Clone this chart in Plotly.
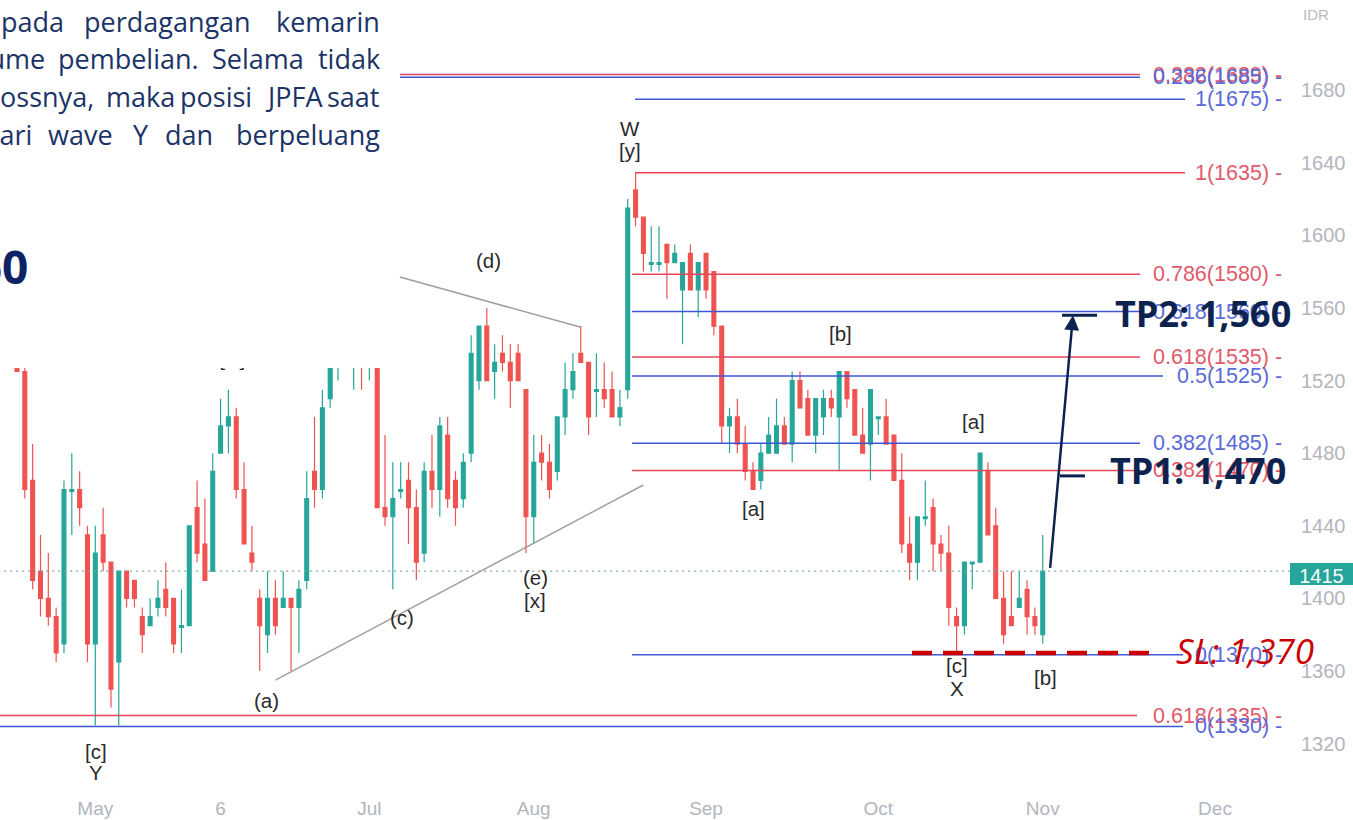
import plotly.graph_objects as go

# ---------------- data ----------------
bar_index = list(range(132))
open_ = [1540,1525,1465,1415,1400,1390,1375,1459,1460,1435,1375,1435,1420,1365,1415,1410,1390,1385,1395,1405,
         1400,1384,1385,1450,1430,1415,1480,1495,1500,1460,1425,1400,1380,1400,1395,1400,1395,1410,1470,1460,
         1510,1540,1555,1540,1560,1535,1545,1450,1445,1459,1465,1450,1425,1470,1460,1490,1465,1455,1480,1520,
         1550,1525,1535,1530,1535,1515,1445,1480,1475,1470,1500,1515,1535,1530,1514,1515,1515,1500,1515,1625,
         1610,1584,1584,1595,1585,1570,1590,1570,1590,1580,1550,1495,1500,1485,1470,1465,1480,1480,1495,1485,
         1520,1510,1490,1500,1510,1500,1525,1515,1490,1485,1499,1500,1490,1465,1430,1420,1444,1450,1430,1425,
         1390,1385,1419,1420,1470,1440,1400,1390,1395,1405,1390,1380]
high = [1550,1530,1485,1435,1425,1395,1465,1480,1470,1440,1440,1450,1420,1415,1415,1410,1395,1400,1410,1420,
        1400,1405,1440,1465,1455,1480,1510,1515,1505,1475,1440,1405,1415,1410,1415,1400,1410,1470,1500,1515,
        1545,1560,1565,1570,1570,1550,1550,1490,1475,1475,1475,1460,1475,1490,1500,1500,1470,1480,1545,1550,
        1560,1540,1545,1540,1540,1515,1490,1490,1485,1500,1530,1535,1550,1530,1535,1530,1525,1515,1620,1635,
        1610,1605,1605,1595,1595,1585,1595,1585,1590,1580,1550,1505,1510,1495,1475,1485,1500,1510,1500,1525,
        1525,1515,1510,1515,1515,1525,1525,1515,1505,1515,1500,1510,1490,1480,1445,1445,1465,1455,1435,1440,
        1395,1420,1420,1480,1475,1450,1415,1415,1415,1410,1395,1435]
low = [1525,1455,1405,1390,1385,1365,1370,1435,1440,1365,1330,1415,1340,1330,1395,1395,1370,1385,1390,1390,
       1370,1370,1385,1420,1410,1415,1480,1480,1455,1430,1415,1360,1370,1380,1395,1360,1370,1405,1450,1455,
       1505,1520,1530,1515,1515,1520,1450,1440,1405,1455,1430,1410,1420,1450,1445,1450,1440,1450,1475,1515,
       1520,1510,1525,1505,1520,1425,1430,1465,1455,1465,1490,1510,1530,1490,1500,1505,1500,1495,1510,1605,
       1580,1580,1580,1565,1585,1540,1570,1555,1565,1545,1485,1480,1480,1465,1460,1460,1480,1480,1485,1475,
       1505,1490,1480,1490,1500,1470,1505,1490,1480,1465,1490,1485,1465,1425,1410,1410,1440,1415,1415,1385,
       1370,1380,1405,1420,1435,1400,1375,1385,1395,1380,1380,1375]
close = [1525,1460,1410,1400,1390,1370,1460,1460,1450,1375,1425,1420,1350,1415,1400,1400,1380,1390,1400,1395,
         1375,1385,1440,1425,1410,1470,1495,1500,1460,1430,1420,1385,1400,1385,1400,1395,1405,1455,1460,1505,
         1540,1555,1540,1560,1535,1545,1450,1445,1455,1460,1450,1420,1470,1460,1495,1455,1450,1475,1535,1550,
         1520,1530,1530,1520,1520,1445,1475,1475,1460,1500,1515,1525,1530,1500,1515,1510,1500,1505,1615,1610,
         1590,1585,1585,1585,1590,1585,1570,1585,1570,1550,1495,1500,1485,1470,1460,1480,1490,1495,1485,1520,
         1505,1490,1510,1510,1505,1525,1510,1490,1480,1515,1500,1485,1465,1430,1420,1445,1445,1430,1425,1395,
         1385,1420,1420,1480,1435,1400,1380,1385,1400,1390,1385,1415]
last_price = 1415

month_ticks = [10, 26, 45, 66, 88, 110, 131, 153]
month_labels = ["May", "6", "Jul", "Aug", "Sep", "Oct", "Nov", "Dec"]
price_ticks = [1320, 1360, 1400, 1440, 1480, 1520, 1560, 1600, 1640, 1680]

fib_levels = [1688.5, 1687, 1675, 1634.5, 1578.5, 1558, 1533, 1522.5, 1485.5, 1470.5, 1369, 1335.5, 1329.5]
fib_labels = ["0.382(1689) -", "0.236(1685) -", "1(1675) -", "1(1635) -", "0.786(1580) -", "0.618(1560) -",
              "0.618(1535) -", "0.5(1525) -", "0.382(1485) -", "0.382(1470) -", "0(1370) -", "0.618(1335) -",
              "0(1330) -"]
fib_set = ["r", "b", "b", "r", "r", "b", "r", "b", "b", "r", "b", "r", "b"]

tri_upper_x = [48.9, 71.9]
tri_upper_y = [1577, 1549.5]
tri_lower_x = [33.0, 80.0]
tri_lower_y = [1355, 1462.5]

wave_text = ["W", "[y]", "(d)", "[b]", "[a]", "[a]", "(e)", "[x]", "(c)", "(a)", "[c]", "Y", "[c]", "X", "[b]"]
wave_x = [78.3, 78.3, 60.2, 105.2, 122.2, 94.1, 66.2, 66.2, 49.2, 31.9, 10.1, 10.1, 120.1, 120.1, 131.3]
wave_y = [1659, 1646.5, 1586, 1546, 1497.5, 1449.5, 1411.5, 1399, 1389.5, 1344, 1315.5, 1304, 1363, 1350.5, 1356.5]

tp1, tp2, sl = 1470, 1560, 1370

# ---------------- geometry helpers (layout only) ----------------
PW, PH = 1290, 790
X0 = (0 - 17) / 7.83
X1 = (PW - 17) / 7.83
Y0, Y1 = 1294.5, 1729.6
def ix(px): return (px - 17) / 7.83
def pv(py): return 1680 - (py - 90) / 1.816
def xpap(px): return px / PW
def ypap(py): return 1 - py / PH

RED_L, BLUE_L = "#e8455a", "#3f56d8"
RED_T, BLUE_T = "#e2596b", "#5a6ad8"
NAVY = "#0c2350"

fig = go.Figure()

# fib lines (behind candles)
fib_start_px = [400, 400, 635, 635, 632, 632, 632, 632, 632, 632, 632, -5, -5]
fib_end_px = [1140, 1140, 1185, 1185, 1140, 1140, 1140, 1163, 1140, 1140, 1183, 1137, 1183]
for lvl, s, e0, e1 in zip(fib_levels, fib_set, fib_start_px, fib_end_px):
    fig.add_trace(go.Scatter(x=[ix(e0), ix(e1)], y=[lvl, lvl], mode="lines",
                             line=dict(color=RED_L if s == "r" else BLUE_L, width=1.5),
                             hoverinfo="skip", showlegend=False))

# last price dotted line
fig.add_trace(go.Scatter(x=[X0 - 1, X1 + 1], y=[last_price, last_price], mode="lines",
                         line=dict(color="#7fa9a5", width=1.3, dash="2px,4px"),
                         hoverinfo="skip", showlegend=False))

# triangle lines
for tx, ty in [(tri_upper_x, tri_upper_y), (tri_lower_x, tri_lower_y)]:
    fig.add_trace(go.Scatter(x=tx, y=ty, mode="lines", line=dict(color="#a0a0a0", width=1.5),
                             hoverinfo="skip", showlegend=False))

fig.add_trace(go.Candlestick(
    x=bar_index, open=open_, high=high, low=low, close=close,
    increasing=dict(line=dict(color="#26a69a", width=1.2), fillcolor="#26a69a"),
    decreasing=dict(line=dict(color="#ef5350", width=1.2), fillcolor="#ef5350"),
    whiskerwidth=0, showlegend=False, hoverinfo="skip"))

# partially hidden label under the white box
fig.add_trace(go.Scatter(x=[27.5], y=[1531], mode="text", text=["[w]"],
                         textfont=dict(family="Liberation Sans", size=20, color="#2a2a2a"),
                         hoverinfo="skip", showlegend=False))

# SL dashed line
fig.add_trace(go.Scatter(x=[ix(912), ix(1150)], y=[sl, sl], mode="lines",
                         line=dict(color="#cc0000", width=4.5, dash="20px,11px"),
                         hoverinfo="skip", showlegend=False))
# TP short dashes
fig.add_trace(go.Scatter(x=[ix(1062), ix(1097)], y=[tp2 - 4, tp2 - 4], mode="lines",
                         line=dict(color=NAVY, width=3), hoverinfo="skip", showlegend=False))
fig.add_trace(go.Scatter(x=[ix(1060), ix(1085)], y=[tp1 - 2.5, tp1 - 2.5], mode="lines",
                         line=dict(color=NAVY, width=3), hoverinfo="skip", showlegend=False))

shapes = [
    # white box over top-left region
    dict(type="rect", xref="paper", yref="paper", x0=-0.01, x1=xpap(398), y0=ypap(368), y1=1.01,
         fillcolor="white", line=dict(width=0), layer="above"),
    # current price tag
    dict(type="rect", xref="paper", yref="paper", x0=1.0, x1=1353 / PW, y0=ypap(585), y1=ypap(563),
         fillcolor="#26a69a", line=dict(width=0), layer="above",
         label=dict(text=str(last_price), textposition="middle center",
                    font=dict(family="Liberation Sans", size=20, color="white"))),
    # currency label
    dict(type="rect", xref="paper", yref="paper", x0=xpap(1298), x1=xpap(1334), y0=ypap(24), y1=ypap(2),
         fillcolor="rgba(0,0,0,0)", line=dict(width=0), layer="above",
         label=dict(text="IDR", textposition="middle center",
                    font=dict(family="Liberation Sans", size=15, color="#b8bbc2"))),
]

ann = []
# fib labels
for lvl, s, t in zip(fib_levels, fib_set, fib_labels):
    ann.append(dict(x=ix(1284), y=lvl, xref="x", yref="y", text=t, showarrow=False, xanchor="right",
                    yanchor="middle", font=dict(family="Liberation Sans", size=21.5, color=RED_T if s == "r" else BLUE_T)))
# wave labels
for t, wx, wy in zip(wave_text, wave_x, wave_y):
    ann.append(dict(x=wx, y=wy, xref="x", yref="y", text=t, showarrow=False,
                    font=dict(family="Liberation Sans", size=20.5, color="#2a2a2a")))
# arrow to TP2
ann.append(dict(x=ix(1073), y=tp2 - 4, ax=ix(1050), ay=last_price + 1, xref="x", yref="y", axref="x", ayref="y",
                text="", showarrow=True, arrowhead=2, arrowsize=1.2, arrowwidth=2.5, arrowcolor=NAVY))
# TP / SL text
ann.append(dict(x=xpap(1113), y=pv(313), xref="paper", yref="y", text="<b>TP2: 1,560</b>", showarrow=False,
                xanchor="left", yanchor="middle", font=dict(family="Open Sans", size=36, color=NAVY)))
ann.append(dict(x=xpap(1108), y=pv(471), xref="paper", yref="y", text="<b>TP1: 1,470</b>", showarrow=False,
                xanchor="left", yanchor="middle", font=dict(family="Open Sans", size=36, color=NAVY)))
ann.append(dict(x=xpap(1174), y=pv(651), xref="paper", yref="y", text="<i>SL: 1,370</i>", showarrow=False,
                xanchor="left", yanchor="middle", font=dict(family="Open Sans", size=35, color="#cc0000")))

# commentary text (cropped text box)
words = [
    ("pada", 0, "left", 21), ("perdagangan", 83, "left", 21), ("kemarin", 381, "right", 21),
    ("volume", 46, "right", 59), ("pembelian.", 57, "left", 59), ("Selama", 211, "left", 59), ("tidak", 381, "right", 59),
    ("stoplossnya,", 95, "right", 97), ("maka", 105, "left", 97), ("posisi", 179, "left", 97),
    ("JPFA", 264, "left", 97), ("saat", 381, "right", 97),
    ("dari", 33, "right", 134), ("wave", 47, "left", 134), ("Y", 132, "left", 134), ("dan", 164, "left", 134),
    ("berpeluang", 381, "right", 134),
]
for t, px, anc, py in words:
    ann.append(dict(x=xpap(px), y=ypap(py), xref="paper", yref="paper", text=t, showarrow=False,
                    xanchor=anc, yanchor="middle", borderpad=0,
                    font=dict(family="Open Sans", size=27, color="#1b3366")))
ann.append(dict(x=xpap(29), y=ypap(266), xref="paper", yref="paper", text="<b>1,560</b>", showarrow=False,
                xanchor="right", yanchor="middle", borderpad=0,
                font=dict(family="Open Sans", size=46, color="#0c2466")))

fig.update_layout(
    width=1353, height=820, autosize=False,
    margin=dict(l=0, r=63, t=0, b=30),
    paper_bgcolor="white", plot_bgcolor="white",
    shapes=shapes, annotations=ann, showlegend=False,
    xaxis=dict(range=[X0, X1], showgrid=False, zeroline=False, showline=False,
               tickmode="array", tickvals=month_ticks, ticktext=month_labels, ticks="",
               ticklabelstandoff=5,
               tickfont=dict(family="Liberation Sans", size=19, color="#b2b5be"),
               rangeslider=dict(visible=False), fixedrange=True),
    yaxis=dict(range=[Y0, Y1], side="right", showgrid=False, zeroline=False, showline=False,
               tickmode="array", tickvals=price_ticks, ticks="", ticklabelstandoff=10,
               tickfont=dict(family="Liberation Sans", size=20, color="#b2b5be"), fixedrange=True),
)

fig.write_html("out.html")
